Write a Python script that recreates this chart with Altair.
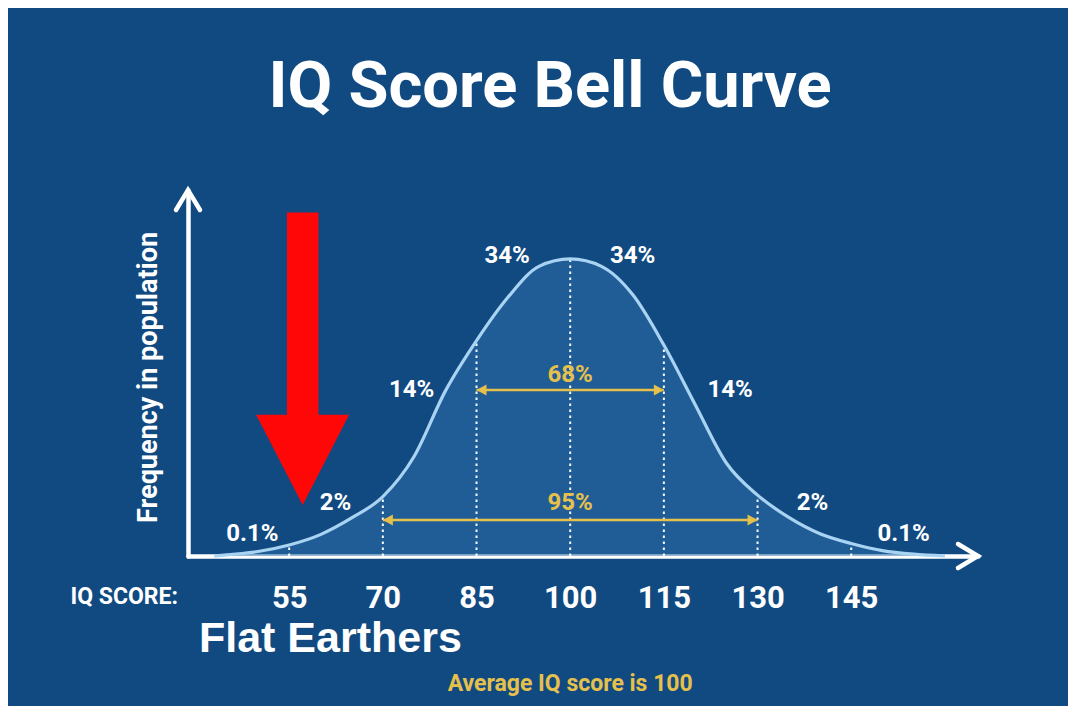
import altair as alt
import pandas as pd

# ---- data ----
iq_points = [43, 45, 50, 55, 60, 65, 70, 75, 80, 85, 90, 95, 100,
             105, 110, 115, 120, 125, 130, 135, 140, 145, 150, 155, 160]
frequency = [0.0, 0.004, 0.015, 0.037, 0.072, 0.128, 0.2, 0.335, 0.555, 0.725, 0.87, 0.975, 1.0,
             0.975, 0.88, 0.71, 0.51, 0.313, 0.205, 0.13, 0.075, 0.042, 0.018, 0.006, 0.0]

sigma_marks = [55, 70, 85, 100, 115, 130, 145]
sigma_heights = [0.037, 0.2, 0.725, 1.0, 0.71, 0.205, 0.042]

band_labels = ["0.1%", "2%", "14%", "34%", "34%", "14%", "2%", "0.1%"]
band_label_iq = [49.1, 62.4, 74.6, 89.9, 110.0, 125.6, 138.8, 153.4]
band_label_freq = [0.074, 0.178, 0.559, 1.01, 1.01, 0.559, 0.178, 0.074]

range_labels = ["68%", "95%"]
range_from = [85, 70]
range_to = [115, 130]
range_level = [0.559, 0.121]
range_label_level = [0.608, 0.18]

title_text = "IQ Score Bell Curve"
y_title = "Frequency in population"
x_prefix = ["IQ SCORE:"]
x_prefix_iq = [37.2]
x_prefix_freq = [-0.138]
callout = ["Flat Earthers"]
callout_iq = [61.6]
callout_freq = [-0.323]
note = ["Average IQ score is 100"]
note_iq = [100.0]
note_freq = [-0.455]
pointer_iq = [57.16]
pointer_freq = [0.664]

x_min, x_max = 38.8, 165.3
y_min, y_max = 0.0, 1.232

# ---- styles ----
BG = "#114a81"
WHITE = "#ffffff"
GOLD = "#e6c04c"
CURVE = "#a9d3f3"
FILL = "#2f6fab"
RED = "#ff0707"
NARROW = "Roboto, Liberation Sans, sans-serif"
SANS = "Liberation Sans, Arial, Helvetica, sans-serif"

xscale = alt.Scale(domain=[x_min, x_max], nice=False, zero=False)
yscale = alt.Scale(domain=[y_min, y_max], nice=False, zero=False)

xaxis = alt.Axis(values=sigma_marks, title=None, grid=False, ticks=False, tickSize=0,
                 labelFontSize=31, labelFont=NARROW, labelFontWeight="bold", labelColor=WHITE,
                 labelPadding=27, labelFlush=False, labelOverlap=False,
                 domainColor=WHITE, domainWidth=4.5, domainCap="round")
yaxis = alt.Axis(title=y_title, grid=False, ticks=False, tickSize=0, labels=False,
                 domainColor=WHITE, domainWidth=4.5, domainCap="round",
                 titleFontSize=27, titleFont=NARROW, titleFontWeight="bold", titleColor=WHITE,
                 titleAngle=270, titleX=-40, titleY=187, titleAlign="center", titleBaseline="middle")


def X(field):
    return alt.X(field, type="quantitative", scale=xscale, axis=xaxis)


def Y(field):
    return alt.Y(field, type="quantitative", scale=yscale, axis=yaxis)


curve_df = pd.DataFrame({"iq": iq_points, "freq": frequency})
sigma_df = pd.DataFrame({"iq": sigma_marks, "freq": sigma_heights, "base": [0.0] * len(sigma_marks)})
band_df = pd.DataFrame({"iq": band_label_iq, "freq": band_label_freq, "label": band_labels})
range_df = pd.DataFrame({"iq": range_from, "to": range_to, "freq": range_level,
                         "label": range_labels, "lab": range_label_level,
                         "mid": [(a + b) / 2 for a, b in zip(range_from, range_to)]})

area = alt.Chart(curve_df).mark_area(color=FILL, opacity=0.5, interpolate="monotone").encode(
    x=X("iq"), y=Y("freq"))

dotted = alt.Chart(sigma_df).mark_rule(color=WHITE, strokeWidth=2, strokeDash=[2.5, 3.5], opacity=0.95).encode(
    x=X("iq"), y=Y("base"), y2=alt.Y2("freq"))

curve = alt.Chart(curve_df).mark_line(color=CURVE, strokeWidth=3.2, interpolate="monotone").encode(
    x=X("iq"), y=Y("freq"))

range_rules = alt.Chart(range_df).mark_rule(color=GOLD, strokeWidth=2.5).encode(
    x=X("iq"), x2=alt.X2("to"), y=Y("freq"))

left_heads = alt.Chart(range_df).mark_point(
    shape="M 0 0 L 1 -0.55 L 1 0.55 Z", filled=True, color=GOLD, opacity=1, size=400).encode(
    x=X("iq"), y=Y("freq"))
right_heads = alt.Chart(range_df).mark_point(
    shape="M 0 0 L -1 -0.55 L -1 0.55 Z", filled=True, color=GOLD, opacity=1, size=400).encode(
    x=X("to"), y=Y("freq"))

range_text = alt.Chart(range_df).mark_text(
    color=GOLD, font=NARROW, fontSize=24, fontWeight="bold", baseline="middle", align="center").encode(
    x=X("mid"), y=Y("lab"), text="label:N")

band_text = alt.Chart(band_df).mark_text(
    color=WHITE, font=NARROW, fontSize=24, fontWeight="bold", baseline="middle", align="center").encode(
    x=X("iq"), y=Y("freq"), text="label:N")

pointer_df = pd.DataFrame({"iq": pointer_iq, "freq": pointer_freq})
pointer = alt.Chart(pointer_df).mark_point(
    shape="M -0.108 -1 L 0.108 -1 L 0.108 0.384 L 0.318 0.384 L 0 1 L -0.318 0.384 L -0.108 0.384 Z",
    filled=True, color=RED, opacity=1, size=85440, strokeWidth=0).encode(
    x=X("iq"), y=Y("freq"))

ends_df = pd.DataFrame({"iq": [x_max], "freq": [y_min]})
x_head = alt.Chart(ends_df).mark_point(
    shape="M -1 -0.6 L 0 0 L -1 0.6", filled=False, stroke=WHITE, strokeWidth=4.5, opacity=1,
    size=1600, strokeCap="round", strokeJoin="miter").encode(x=X("iq"), y=Y("freq"))
top_df = pd.DataFrame({"iq": [x_min], "freq": [y_max]})
y_head = alt.Chart(top_df).mark_point(
    shape="M -0.6 1 L 0 0 L 0.6 1", filled=False, stroke=WHITE, strokeWidth=4.5, opacity=1,
    size=1600, strokeCap="round", strokeJoin="miter").encode(x=X("iq"), y=Y("freq"))

prefix_df = pd.DataFrame({"iq": x_prefix_iq, "freq": x_prefix_freq, "label": x_prefix})
prefix = alt.Chart(prefix_df).mark_text(
    color=WHITE, font=NARROW, fontSize=23, fontWeight="bold", align="right", baseline="middle").encode(
    x=X("iq"), y=Y("freq"), text="label:N")

callout_df = pd.DataFrame({"iq": callout_iq, "freq": callout_freq, "label": callout})
callout_txt = alt.Chart(callout_df).mark_text(
    color=WHITE, font=SANS, fontSize=43, fontWeight="bold", align="center", baseline="alphabetic").encode(
    x=X("iq"), y=Y("freq"), text="label:N")

note_df = pd.DataFrame({"iq": note_iq, "freq": note_freq, "label": note})
note_txt = alt.Chart(note_df).mark_text(
    color=GOLD, font=NARROW, fontSize=23, fontWeight="bold", align="center", baseline="alphabetic").encode(
    x=X("iq"), y=Y("freq"), text="label:N")

chart = alt.layer(
    area, dotted, curve, range_rules, left_heads, right_heads, range_text, band_text,
    pointer, x_head, y_head, prefix, callout_txt, note_txt
).properties(
    width=790, height=366,
    padding={"left": 180, "top": 182, "right": 90, "bottom": 150},
    autosize=alt.AutoSizeParams(type="none"),
    title=alt.TitleParams(title_text, fontSize=65, font=NARROW, fontWeight="bold", color=WHITE,
                          anchor="middle", dx=-33, offset=60),
    background=BG,
).configure_view(strokeWidth=0)

chart.save("out.html", embed_options={"renderer": "svg", "actions": False})
